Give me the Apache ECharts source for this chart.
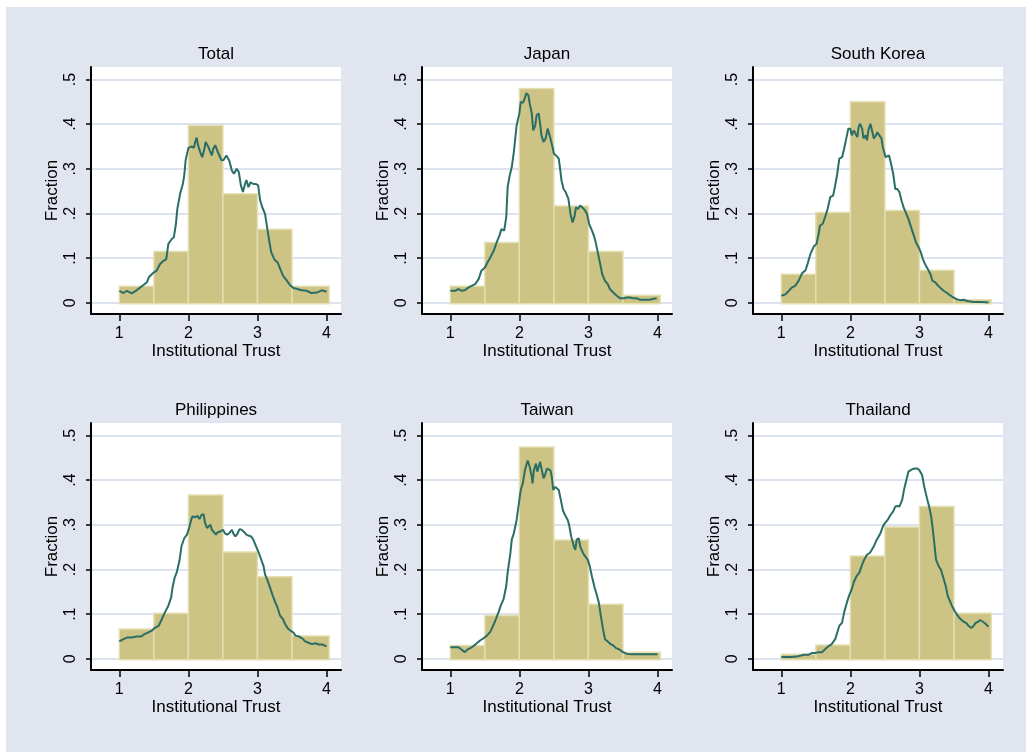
<!DOCTYPE html>
<html>
<head>
<meta charset="utf-8">
<title>Institutional Trust histograms</title>
<script src="https://cdn.jsdelivr.net/npm/echarts@6/dist/echarts.min.js"></script>
<style>
  html, body { margin: 0; padding: 0; background: #fff; }
  #chart { position: absolute; left: 6px; top: 7px; width: 1020px; height: 745px; }
</style>
</head>
<body>
<div id="chart"></div>
<script>
// panels, left to right, top to bottom
var panelNames = ['Total', 'Japan', 'South Korea', 'Philippines', 'Taiwan', 'Thailand'];

// histogram bins (Institutional Trust) and fractions per bin
var binEdges = [1, 1.5, 2, 2.5, 3, 3.5, 4.04];
var barsTotal = [0.037, 0.115, 0.397, 0.244, 0.165, 0.037];
var barsJapan = [0.037, 0.135, 0.480, 0.217, 0.115, 0.017];
var barsKorea = [0.064, 0.202, 0.450, 0.207, 0.073, 0.007];
var barsPhilippines = [0.067, 0.102, 0.367, 0.239, 0.184, 0.051];
var barsTaiwan = [0.030, 0.097, 0.474, 0.266, 0.122, 0.015];
var barsThailand = [0.010, 0.031, 0.230, 0.295, 0.341, 0.102];

// smoothed density line, [trust, fraction]
var lineTotal = [[1.00,0.027],[1.06,0.022],[1.11,0.027],[1.18,0.021],[1.25,0.028],[1.30,0.034],[1.35,0.040],[1.40,0.046],[1.43,0.058],[1.49,0.067],[1.54,0.072],[1.59,0.087],[1.64,0.094],[1.68,0.098],[1.71,0.132],[1.76,0.143],[1.79,0.147],[1.82,0.177],[1.84,0.210],[1.88,0.244],[1.92,0.266],[1.94,0.285],[1.96,0.319],[2.00,0.347],[2.05,0.350],[2.08,0.347],[2.10,0.360],[2.12,0.370],[2.14,0.353],[2.17,0.338],[2.20,0.326],[2.23,0.343],[2.25,0.360],[2.29,0.349],[2.31,0.341],[2.34,0.330],[2.36,0.345],[2.39,0.353],[2.42,0.340],[2.46,0.326],[2.48,0.319],[2.51,0.320],[2.55,0.330],[2.59,0.319],[2.63,0.296],[2.66,0.289],[2.70,0.300],[2.73,0.293],[2.76,0.263],[2.79,0.248],[2.82,0.266],[2.84,0.275],[2.87,0.259],[2.90,0.270],[2.94,0.266],[2.98,0.266],[3.01,0.263],[3.04,0.229],[3.07,0.214],[3.11,0.199],[3.14,0.169],[3.17,0.139],[3.20,0.113],[3.25,0.096],[3.29,0.091],[3.33,0.076],[3.37,0.061],[3.42,0.051],[3.47,0.040],[3.52,0.033],[3.58,0.031],[3.64,0.028],[3.71,0.027],[3.78,0.022],[3.86,0.023],[3.93,0.028],[3.95,0.027],[4.00,0.025]];
var lineJapan = [[1.00,0.027],[1.07,0.027],[1.12,0.031],[1.16,0.027],[1.21,0.028],[1.26,0.034],[1.31,0.038],[1.36,0.042],[1.41,0.053],[1.45,0.072],[1.50,0.079],[1.54,0.091],[1.58,0.102],[1.63,0.117],[1.67,0.135],[1.71,0.150],[1.74,0.165],[1.78,0.162],[1.81,0.192],[1.83,0.259],[1.86,0.285],[1.89,0.304],[1.92,0.338],[1.96,0.397],[2.00,0.424],[2.02,0.450],[2.05,0.448],[2.07,0.454],[2.10,0.469],[2.13,0.465],[2.15,0.446],[2.18,0.424],[2.20,0.386],[2.23,0.397],[2.25,0.420],[2.28,0.424],[2.30,0.401],[2.32,0.375],[2.35,0.360],[2.38,0.368],[2.41,0.390],[2.43,0.386],[2.45,0.368],[2.48,0.349],[2.50,0.334],[2.53,0.330],[2.57,0.323],[2.59,0.300],[2.61,0.274],[2.64,0.255],[2.67,0.248],[2.71,0.233],[2.74,0.199],[2.77,0.180],[2.80,0.195],[2.82,0.214],[2.85,0.210],[2.88,0.218],[2.91,0.214],[2.95,0.207],[2.98,0.199],[3.01,0.177],[3.05,0.162],[3.08,0.150],[3.11,0.132],[3.14,0.109],[3.17,0.087],[3.20,0.064],[3.24,0.049],[3.28,0.042],[3.31,0.031],[3.36,0.023],[3.41,0.016],[3.46,0.010],[3.51,0.010],[3.56,0.012],[3.60,0.012],[3.65,0.010],[3.70,0.010],[3.75,0.007],[3.80,0.007],[3.85,0.007],[3.89,0.007],[3.94,0.009],[3.99,0.010]];
var lineKorea = [[1.00,0.016],[1.06,0.019],[1.11,0.027],[1.15,0.034],[1.20,0.038],[1.25,0.049],[1.30,0.066],[1.35,0.073],[1.38,0.087],[1.42,0.109],[1.47,0.126],[1.51,0.132],[1.54,0.154],[1.56,0.173],[1.60,0.177],[1.64,0.195],[1.67,0.210],[1.71,0.237],[1.75,0.240],[1.78,0.263],[1.81,0.289],[1.84,0.323],[1.88,0.326],[1.91,0.345],[1.95,0.375],[1.97,0.390],[2.00,0.390],[2.02,0.375],[2.05,0.386],[2.07,0.382],[2.10,0.371],[2.12,0.394],[2.14,0.401],[2.17,0.390],[2.19,0.368],[2.22,0.375],[2.24,0.364],[2.26,0.386],[2.29,0.401],[2.31,0.397],[2.34,0.368],[2.37,0.375],[2.39,0.382],[2.42,0.375],[2.45,0.368],[2.47,0.349],[2.51,0.326],[2.53,0.323],[2.56,0.330],[2.59,0.311],[2.62,0.289],[2.65,0.255],[2.68,0.255],[2.71,0.248],[2.74,0.229],[2.77,0.214],[2.81,0.199],[2.84,0.188],[2.88,0.169],[2.92,0.150],[2.95,0.135],[2.99,0.124],[3.02,0.113],[3.05,0.098],[3.08,0.087],[3.12,0.076],[3.16,0.064],[3.19,0.049],[3.23,0.046],[3.26,0.040],[3.30,0.034],[3.35,0.027],[3.40,0.022],[3.45,0.016],[3.49,0.012],[3.54,0.008],[3.59,0.006],[3.64,0.007],[3.69,0.004],[3.74,0.003],[3.78,0.002],[3.83,0.002],[3.90,0.002],[4.00,0.001]];
var linePhilippines = [[1.00,0.039],[1.06,0.044],[1.12,0.048],[1.18,0.048],[1.25,0.050],[1.32,0.050],[1.37,0.056],[1.42,0.059],[1.47,0.063],[1.52,0.070],[1.57,0.074],[1.61,0.087],[1.66,0.104],[1.71,0.119],[1.75,0.137],[1.77,0.159],[1.80,0.181],[1.83,0.193],[1.87,0.219],[1.90,0.252],[1.94,0.270],[1.98,0.278],[2.01,0.293],[2.04,0.311],[2.06,0.319],[2.10,0.317],[2.13,0.320],[2.16,0.313],[2.19,0.322],[2.22,0.324],[2.24,0.305],[2.27,0.293],[2.29,0.289],[2.32,0.300],[2.34,0.289],[2.36,0.293],[2.40,0.278],[2.42,0.283],[2.46,0.285],[2.50,0.289],[2.53,0.281],[2.56,0.278],[2.59,0.281],[2.63,0.289],[2.65,0.281],[2.68,0.274],[2.71,0.280],[2.74,0.290],[2.77,0.289],[2.80,0.285],[2.84,0.278],[2.87,0.276],[2.91,0.274],[2.94,0.267],[2.98,0.252],[3.02,0.237],[3.05,0.224],[3.09,0.207],[3.11,0.189],[3.15,0.174],[3.19,0.156],[3.22,0.142],[3.26,0.126],[3.29,0.115],[3.33,0.096],[3.37,0.089],[3.40,0.078],[3.44,0.068],[3.48,0.063],[3.52,0.059],[3.55,0.052],[3.60,0.050],[3.65,0.046],[3.69,0.039],[3.74,0.036],[3.79,0.033],[3.84,0.035],[3.89,0.032],[3.94,0.032],[4.00,0.028]];
var lineTaiwan = [[1.00,0.026],[1.07,0.026],[1.12,0.026],[1.16,0.021],[1.21,0.015],[1.25,0.021],[1.29,0.024],[1.32,0.027],[1.37,0.033],[1.43,0.041],[1.48,0.046],[1.53,0.052],[1.58,0.061],[1.62,0.074],[1.66,0.089],[1.70,0.105],[1.73,0.119],[1.77,0.133],[1.81,0.163],[1.83,0.193],[1.87,0.237],[1.89,0.267],[1.92,0.281],[1.96,0.311],[2.00,0.356],[2.02,0.378],[2.05,0.393],[2.08,0.422],[2.12,0.444],[2.15,0.430],[2.18,0.407],[2.19,0.393],[2.21,0.422],[2.24,0.437],[2.26,0.419],[2.28,0.430],[2.30,0.441],[2.33,0.419],[2.35,0.404],[2.37,0.411],[2.40,0.426],[2.42,0.430],[2.45,0.422],[2.47,0.407],[2.49,0.378],[2.52,0.385],[2.54,0.381],[2.57,0.378],[2.60,0.356],[2.63,0.333],[2.66,0.322],[2.70,0.311],[2.72,0.300],[2.75,0.274],[2.79,0.252],[2.81,0.244],[2.83,0.267],[2.86,0.270],[2.88,0.252],[2.92,0.237],[2.95,0.230],[2.99,0.222],[3.02,0.207],[3.05,0.185],[3.09,0.159],[3.12,0.144],[3.15,0.126],[3.18,0.096],[3.21,0.067],[3.24,0.044],[3.28,0.039],[3.32,0.033],[3.36,0.030],[3.40,0.024],[3.45,0.021],[3.50,0.015],[3.56,0.011],[3.66,0.010],[3.76,0.010],[3.85,0.010],[4.00,0.010]];
var lineThailand = [[1.00,0.004],[1.08,0.004],[1.15,0.004],[1.22,0.005],[1.27,0.007],[1.33,0.009],[1.39,0.009],[1.44,0.013],[1.49,0.013],[1.54,0.015],[1.59,0.015],[1.63,0.021],[1.68,0.028],[1.73,0.033],[1.78,0.044],[1.81,0.059],[1.84,0.074],[1.88,0.081],[1.91,0.104],[1.95,0.126],[1.98,0.141],[2.02,0.156],[2.05,0.172],[2.09,0.185],[2.13,0.193],[2.17,0.211],[2.20,0.222],[2.24,0.233],[2.28,0.237],[2.31,0.244],[2.34,0.252],[2.37,0.263],[2.41,0.274],[2.44,0.283],[2.47,0.296],[2.50,0.304],[2.54,0.311],[2.58,0.322],[2.62,0.330],[2.65,0.341],[2.68,0.342],[2.71,0.341],[2.73,0.337],[2.75,0.356],[2.78,0.381],[2.81,0.400],[2.84,0.419],[2.87,0.422],[2.90,0.425],[2.94,0.426],[2.97,0.426],[3.00,0.422],[3.04,0.411],[3.07,0.385],[3.11,0.359],[3.14,0.341],[3.17,0.319],[3.20,0.281],[3.22,0.252],[3.24,0.222],[3.28,0.207],[3.31,0.200],[3.34,0.185],[3.38,0.163],[3.41,0.141],[3.44,0.130],[3.47,0.119],[3.51,0.107],[3.54,0.100],[3.57,0.093],[3.61,0.087],[3.64,0.083],[3.68,0.080],[3.71,0.074],[3.75,0.069],[3.78,0.073],[3.81,0.080],[3.85,0.083],[3.88,0.087],[3.92,0.083],[3.96,0.078],[4.00,0.072]];

var xTicks = [1, 2, 3, 4];
var yTicks = [0, 0.1, 0.2, 0.3, 0.4, 0.5];
var yTickLabels = ['0', '.1', '.2', '.3', '.4', '.5'];

var panelBars = [barsTotal, barsJapan, barsKorea, barsPhilippines, barsTaiwan, barsThailand];
var panelLines = [lineTotal, lineJapan, lineKorea, linePhilippines, lineTaiwan, lineThailand];

var FONT = '"Liberation Sans", Arial, Helvetica, sans-serif';
var colLeft = [85, 416, 747];
var rowTop = [60, 416];
var plotW = 250, plotH = 247;

var grids = [], xAxes = [], yAxes = [], series = [], texts = [];

function renderBar(params, api) {
  var p0 = api.coord([api.value(0), api.value(2)]);
  var p1 = api.coord([api.value(1), 0]);
  return {
    type: 'rect',
    shape: {x: p0[0], y: p0[1], width: p1[0] - p0[0], height: p1[1] - p0[1] + 1},
    style: {fill: '#ccc384', stroke: '#e4dfb0', lineWidth: 1.5}
  };
}

panelNames.forEach(function (name, i) {
  var left = colLeft[i % 3], top = rowTop[Math.floor(i / 3)];
  grids.push({
    left: left, top: top, width: plotW, height: plotH,
    show: true, backgroundColor: '#ffffff', borderWidth: 0,
    containLabel: false, outerBoundsMode: 'none'
  });
  xAxes.push({
    type: 'value', gridIndex: i, min: 0.59, max: 4.21,
    name: 'Institutional Trust', nameLocation: 'middle', nameGap: 28,
    nameTextStyle: {color: '#000', fontSize: 17, fontFamily: FONT},
    axisLine: {show: true, onZero: false, lineStyle: {color: '#000', width: 2}},
    axisTick: {show: true, customValues: xTicks, length: 7, lineStyle: {color: '#000', width: 1.5}},
    axisLabel: {show: true, customValues: xTicks, margin: 12, color: '#000', fontSize: 16, fontFamily: FONT},
    splitLine: {show: false}
  });
  yAxes.push({
    type: 'value', gridIndex: i, min: -0.025, max: 0.528,
    name: 'Fraction', nameLocation: 'middle', nameGap: 30, nameRotate: 90,
    nameTextStyle: {color: '#000', fontSize: 17, fontFamily: FONT},
    axisLine: {show: true, onZero: false, lineStyle: {color: '#000', width: 2}},
    axisTick: {show: true, customValues: yTicks, length: 5, lineStyle: {color: '#000', width: 1.5}},
    axisLabel: {
      show: true, customValues: yTicks, rotate: 90, margin: 12,
      color: '#000', fontSize: 16, fontFamily: FONT,
      formatter: function (v) {
        for (var k = 0; k < yTicks.length; k++) {
          if (Math.abs(yTicks[k] - v) < 1e-9) return yTickLabels[k];
        }
        return '';
      }
    },
    splitLine: {show: true, lineStyle: {color: '#dde3ee', width: 2}}
  });
  var barData = panelBars[i].map(function (h, k) {
    return [binEdges[k], binEdges[k + 1], h];
  });
  series.push({
    type: 'custom', xAxisIndex: i, yAxisIndex: i,
    renderItem: renderBar, data: barData,
    encode: {x: [0, 1], y: 2}, silent: true, z: 2
  });
  series.push({
    type: 'line', xAxisIndex: i, yAxisIndex: i,
    data: panelLines[i], showSymbol: false, symbol: 'none', smooth: false,
    lineStyle: {color: '#2a6e66', width: 2}, silent: true, z: 3
  });
  texts.push({
    type: 'text',
    x: left + plotW / 2, y: top - 13,
    style: {text: name, fill: '#000', font: '17px ' + FONT, align: 'center', verticalAlign: 'middle'},
    z: 10
  });
});

var chart = echarts.init(document.getElementById('chart'), null, {renderer: 'canvas'});
chart.setOption({
  backgroundColor: '#e0e5ef',
  animation: false,
  textStyle: {fontFamily: FONT},
  grid: grids,
  xAxis: xAxes,
  yAxis: yAxes,
  series: series,
  graphic: {elements: texts}
});
</script>
</body>
</html>
